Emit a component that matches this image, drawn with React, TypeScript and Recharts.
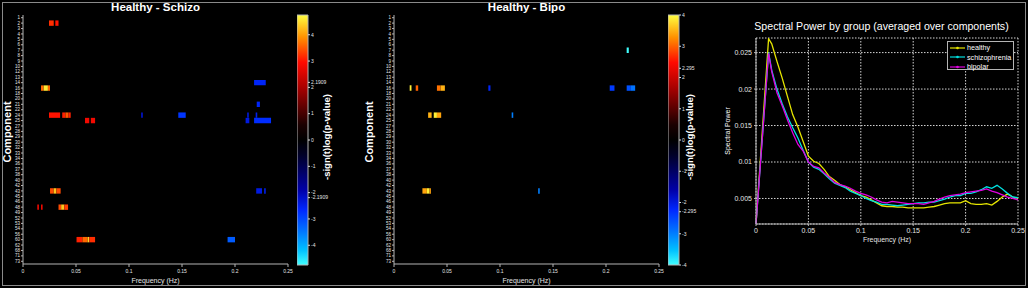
import React from "react";
import {
  ComposedChart,
  LineChart,
  Line,
  Scatter,
  XAxis,
  YAxis,
  ReferenceArea,
  CartesianGrid,
  Legend,
} from "recharts";

const FONT = '"Liberation Sans", Arial, sans-serif';

// component numbers on the heatmap rows, top to bottom
const components = [
  1, 2, 3, 4, 5, 6, 7, 8, 9, 10, 12, 13, 14, 16, 18, 20, 21, 22, 24, 25, 27, 28, 29, 30, 32, 33,
  34, 36, 37, 38, 40, 42, 43, 45, 46, 48, 49, 52, 53, 54, 56, 60, 62, 68, 71, 73,
];

const freqTicks = [0, 0.05, 0.1, 0.15, 0.2, 0.25];

// significant cells: [row, freq from, freq to, -sign(t)log(p)]
type Cell = [number, number, number, number];

const schizoCells: Cell[] = [
  [2, 0.0245, 0.029, 3.2],
  [2, 0.0305, 0.0335, 3.0],
  [13, 0.218, 0.229, -2.6],
  [14, 0.017, 0.0195, 3.6],
  [14, 0.0195, 0.0235, 4.6],
  [14, 0.0235, 0.0255, 3.6],
  [17, 0.2205, 0.2235, -2.6],
  [19, 0.0245, 0.035, 3.0],
  [19, 0.037, 0.04, 3.1],
  [19, 0.04, 0.043, 3.5],
  [19, 0.043, 0.045, 3.1],
  [19, 0.1115, 0.113, -2.3],
  [19, 0.1465, 0.1535, -2.8],
  [19, 0.2115, 0.213, -2.4],
  [19, 0.2195, 0.221, -2.5],
  [20, 0.0585, 0.0625, 2.8],
  [20, 0.064, 0.068, 2.8],
  [20, 0.21, 0.2135, -2.4],
  [20, 0.218, 0.234, -2.7],
  [33, 0.0255, 0.029, 3.4],
  [33, 0.029, 0.0315, 4.3],
  [33, 0.0315, 0.0355, 3.4],
  [33, 0.22, 0.2255, -2.4],
  [33, 0.2275, 0.229, -2.5],
  [36, 0.0135, 0.015, 2.8],
  [36, 0.017, 0.0185, 2.8],
  [36, 0.0335, 0.036, 3.4],
  [36, 0.036, 0.039, 4.3],
  [36, 0.039, 0.0425, 3.3],
  [42, 0.0505, 0.056, 3.1],
  [42, 0.056, 0.061, 3.6],
  [42, 0.061, 0.0625, 4.4],
  [42, 0.0625, 0.068, 3.2],
  [42, 0.193, 0.2, -3.2],
];

const bipoCells: Cell[] = [
  [7, 0.2195, 0.2215, -4.0],
  [14, 0.0148, 0.0165, 3.9],
  [14, 0.0205, 0.0228, 3.0],
  [14, 0.0405, 0.044, 3.1],
  [14, 0.044, 0.048, 3.5],
  [14, 0.089, 0.091, -2.2],
  [14, 0.2035, 0.208, -2.4],
  [14, 0.2195, 0.2235, -2.6],
  [14, 0.2235, 0.2275, -2.9],
  [19, 0.0322, 0.0355, 3.5],
  [19, 0.0375, 0.0405, 3.9],
  [19, 0.0405, 0.0445, 3.4],
  [19, 0.111, 0.1125, -3.0],
  [33, 0.0268, 0.031, 3.4],
  [33, 0.031, 0.0335, 3.9],
  [33, 0.0335, 0.0348, 3.4],
  [33, 0.136, 0.1375, -3.0],
];

const schizoBarTicks = [4, 3, 2.1909, 2, 1, 0, -1, -2, -2.1909, -3, -4];
const bipoBarTicks = [4, 3, 2.295, 2, 1, 0, -1, -2, -2.295, -3, -4];

// spectral power curves
const spectrumFreq = [
  0, 0.012, 0.015, 0.02, 0.025, 0.03, 0.035, 0.04, 0.045, 0.05, 0.055, 0.06, 0.065, 0.07, 0.075,
  0.08, 0.085, 0.09, 0.095, 0.1, 0.105, 0.11, 0.115, 0.12, 0.125, 0.13, 0.135, 0.14, 0.145, 0.15,
  0.155, 0.16, 0.165, 0.17, 0.175, 0.18, 0.185, 0.19, 0.195, 0.2, 0.205, 0.21, 0.215, 0.22, 0.225,
  0.23, 0.235, 0.24, 0.245, 0.25,
];
const healthyPower = [
  0.0015, 0.0269, 0.0262, 0.0238, 0.0215, 0.019, 0.0165, 0.0148, 0.0128, 0.0108, 0.0101, 0.0098,
  0.009, 0.008, 0.0075, 0.0069, 0.0066, 0.0062, 0.0058, 0.0054, 0.0052, 0.0048, 0.0044, 0.004,
  0.0039, 0.0039, 0.0038, 0.0038, 0.0037, 0.0037, 0.0037, 0.0037, 0.0038, 0.0039, 0.0041, 0.0043,
  0.0044, 0.0044, 0.0044, 0.0047, 0.0043, 0.0042, 0.0042, 0.0043, 0.0041, 0.0046, 0.0052, 0.0056,
  0.0052, 0.005,
];
const schizoPower = [
  0.0015, 0.025, 0.0226, 0.02, 0.018, 0.0162, 0.0147, 0.0133, 0.0116, 0.01, 0.0093, 0.009, 0.0084,
  0.0077, 0.0071, 0.0068, 0.0065, 0.006, 0.0057, 0.0054, 0.005, 0.0047, 0.0045, 0.0042, 0.0042,
  0.0041, 0.004, 0.0041, 0.0042, 0.0043, 0.0044, 0.0044, 0.0045, 0.0045, 0.0047, 0.0049, 0.0052,
  0.0054, 0.0054, 0.0057, 0.0057, 0.0059, 0.0062, 0.0066, 0.0064, 0.0068, 0.0063, 0.0057, 0.0052,
  0.0051,
];
const bipolarPower = [
  0.0015, 0.0249, 0.0224, 0.0195, 0.0177, 0.0158, 0.014, 0.0124, 0.0115, 0.01, 0.0094, 0.0092,
  0.0085, 0.0079, 0.0072, 0.0069, 0.0067, 0.0064, 0.006, 0.0057, 0.0055, 0.0052, 0.0048, 0.0045,
  0.0044, 0.0046, 0.0045, 0.0044, 0.0043, 0.0043, 0.0043, 0.0042, 0.0044, 0.0046, 0.0049, 0.0052,
  0.0054, 0.0055, 0.0056, 0.0058, 0.0059, 0.006, 0.0061, 0.0063, 0.006, 0.0058, 0.0055, 0.0052,
  0.005, 0.0048,
];
const powerTicks = [0.005, 0.01, 0.015, 0.02, 0.025];
const groupOrder = ["healthy", "schizophrenia", "bipolar"];

const spectrumData = spectrumFreq.map((f, i) => ({
  f,
  healthy: healthyPower[i],
  schizophrenia: schizoPower[i],
  bipolar: bipolarPower[i],
}));

// colormap: black -> red -> yellow for positive, black -> blue -> cyan for negative
const hotStops: [number, string][] = [
  [0, "#000000"],
  [0.12, "#1a0000"],
  [0.4, "#a00000"],
  [0.62, "#ff0a00"],
  [0.82, "#ff9000"],
  [1, "#ffff40"],
];
const coldStops: [number, string][] = [
  [0, "#000000"],
  [0.12, "#000028"],
  [0.4, "#0000a8"],
  [0.56, "#0028ff"],
  [0.72, "#0070ff"],
  [0.88, "#00c0ff"],
  [1, "#40ffff"],
];

const rgb = (h: string) => [1, 3, 5].map((i) => parseInt(h.slice(i, i + 2), 16));

function ramp(stops: [number, string][], t: number) {
  const v = Math.max(0, Math.min(1, t));
  for (let i = 1; i < stops.length; i++) {
    if (v <= stops[i][0]) {
      const [t0, c0] = stops[i - 1];
      const [t1, c1] = stops[i];
      const k = (v - t0) / (t1 - t0);
      const a = rgb(c0);
      const b = rgb(c1);
      return `rgb(${a.map((x, j) => Math.round(x + (b[j] - x) * k)).join(",")})`;
    }
  }
  return stops[stops.length - 1][1];
}

const cellColor = (v: number, limit: number) =>
  v >= 0 ? ramp(hotStops, v / limit) : ramp(coldStops, -v / limit);

const FRAME = "#b4b4b4";
const TXT = "#e4e4e4";
const noShape = () => <g />;

const RotLabel = ({ cx, cy, text, size, bold }: any) => (
  <div
    style={{
      position: "absolute",
      left: cx,
      top: cy,
      transform: "translate(-50%, -50%) rotate(-90deg)",
      whiteSpace: "nowrap",
      fontSize: size,
      fontWeight: bold ? "bold" : "normal",
      color: "#fff",
      fontFamily: FONT,
      lineHeight: 1,
    }}
  >
    {text}
  </div>
);

function Heatmap({ x, title, cells, limit, barTicks, id }: any) {
  const rows = components.map((_, i) => i + 1);
  const centers = cells.map(([row, f0, f1]: Cell) => ({ f: (f0 + f1) / 2, row }));
  const barPoints = barTicks.map((v: number) => ({ u: 0.5, v }));
  const gradStops = [
    ...hotStops.slice().reverse().map(([t, c]) => ({ o: (1 - t) / 2, c })),
    ...coldStops.map(([t, c]) => ({ o: 0.5 + t / 2, c })),
  ];
  return (
    <>
      <div
        style={{
          position: "absolute",
          left: x + 23,
          width: 265,
          top: 0,
          textAlign: "center",
          fontWeight: "bold",
          fontSize: 11.5,
          color: "#fff",
          fontFamily: FONT,
          lineHeight: "15px",
        }}
      >
        {title}
      </div>
      <RotLabel cx={x + (id === "g1" ? 7 : -2)} cy={132} text="Component" size={11} bold />
      <div style={{ position: "absolute", left: x, top: 0 }}>
        <ComposedChart width={300} height={288} margin={{ top: 15, right: 12, bottom: 0, left: 0 }}>
          <XAxis
            xAxisId="b"
            dataKey="f"
            type="number"
            domain={[0, 0.25]}
            allowDataOverflow
            ticks={freqTicks}
            interval={0}
            height={24}
            tickSize={3}
            stroke={FRAME}
            tick={{ fontSize: 5, fill: TXT, fontFamily: FONT }}
            label={{ value: "Frequency (Hz)", position: "insideBottom", offset: 5, fill: TXT, fontSize: 7, fontFamily: FONT }}
          />
          <XAxis
            xAxisId="t"
            dataKey="f"
            orientation="top"
            type="number"
            domain={[0, 0.25]}
            allowDataOverflow
            ticks={freqTicks}
            height={0}
            tickSize={3}
            tick={false}
            stroke={FRAME}
          />
          <YAxis
            yAxisId="l"
            dataKey="row"
            type="number"
            domain={[0.5, 46.5]}
            allowDataOverflow
            reversed
            ticks={rows}
            interval={0}
            width={23}
            tickSize={2}
            tickMargin={1}
            stroke={FRAME}
            tickFormatter={(v: number) => String(components[v - 1])}
            tick={{ fontSize: 4.5, fill: TXT, fontFamily: FONT }}
          />
          <YAxis
            yAxisId="r"
            dataKey="row"
            orientation="right"
            type="number"
            domain={[0.5, 46.5]}
            allowDataOverflow
            reversed
            ticks={rows}
            interval={0}
            width={0}
            tickSize={2}
            tick={false}
            stroke={FRAME}
          />
          <Scatter data={centers} xAxisId="b" yAxisId="l" dataKey="row" shape={noShape} isAnimationActive={false} />
          <Scatter data={centers} xAxisId="t" yAxisId="r" dataKey="row" shape={noShape} isAnimationActive={false} />
          {cells.map(([row, f0, f1, v]: Cell, i: number) => (
            <ReferenceArea
              key={i}
              xAxisId="b"
              yAxisId="l"
              x1={f0}
              x2={f1}
              y1={row - 0.5}
              y2={row + 0.5}
              fill={cellColor(v, limit)}
              fillOpacity={1}
              stroke="none"
              ifOverflow="hidden"
            />
          ))}
        </ComposedChart>
      </div>
      <div style={{ position: "absolute", left: x + 297, top: 0 }}>
        <ComposedChart width={33} height={288} margin={{ top: 15, right: 0, bottom: 23, left: 0 }}>
          <defs>
            <linearGradient id={id} x1="0" y1="0" x2="0" y2="1">
              {gradStops.map((s, i) => (
                <stop key={i} offset={s.o} stopColor={s.c} />
              ))}
            </linearGradient>
          </defs>
          <XAxis dataKey="u" type="number" domain={[0, 1]} allowDataOverflow hide />
          <YAxis
            dataKey="v"
            type="number"
            orientation="right"
            domain={[-limit, limit]}
            allowDataOverflow
            ticks={barTicks}
            interval={0}
            width={22}
            tickSize={2}
            tickMargin={1}
            axisLine={false}
            tickLine={{ stroke: "#ddd" }}
            tick={{ fontSize: 5, fill: TXT, fontFamily: FONT }}
          />
          <ReferenceArea
            x1={0}
            x2={1}
            y1={-limit}
            y2={limit}
            fill={`url(#${id})`}
            fillOpacity={1}
            stroke={FRAME}
            ifOverflow="visible"
          />
          <Scatter data={barPoints} dataKey="v" shape={noShape} isAnimationActive={false} />
        </ComposedChart>
      </div>
      <RotLabel cx={x + (id === "g1" ? 327 : 319)} cy={137} text="-sign(t)log(p-value)" size={9.5} bold />
    </>
  );
}

const renderLegend = (props: any) => {
  const items = (props.payload || [])
    .slice()
    .sort((a: any, b: any) => groupOrder.indexOf(a.value) - groupOrder.indexOf(b.value));
  return (
    <div
      style={{
        border: `1px solid ${FRAME}`,
        background: "#000",
        width: 67,
        height: 29,
        boxSizing: "border-box",
        paddingTop: 1,
        fontFamily: FONT,
      }}
    >
      {items.map((p: any) => (
        <div key={p.value} style={{ display: "flex", alignItems: "center", height: 9.5 }}>
          <svg width={19} height={8}>
            <line x1={2} y1={4} x2={17} y2={4} stroke={p.color} strokeWidth={1.2} />
            <circle cx={9.5} cy={4} r={1.3} fill={p.color} />
          </svg>
          <span style={{ fontSize: 7.2, color: "#fff", lineHeight: 1 }}>{p.value}</span>
        </div>
      ))}
    </div>
  );
};

function SpectrumChart() {
  return (
    <>
      <div
        style={{
          position: "absolute",
          left: 745,
          width: 273,
          top: 19,
          textAlign: "center",
          fontSize: 10.6,
          color: "#fff",
          fontFamily: FONT,
          lineHeight: "14px",
          whiteSpace: "nowrap",
        }}
      >
        Spectral Power by group (averaged over components)
      </div>
      <RotLabel cx={727} cy={131} text="Spectral Power" size={7} />
      <div style={{ position: "absolute", left: 720, top: 0 }}>
        <LineChart width={308} height={288} data={spectrumData} margin={{ top: 38, right: 10, bottom: 44, left: 0 }}>
          <CartesianGrid stroke="#d4d4d4" strokeDasharray="1.5 1.5" />
          <XAxis
            dataKey="f"
            type="number"
            domain={[0, 0.25]}
            ticks={freqTicks}
            interval={0}
            height={20}
            tickSize={2}
            stroke={FRAME}
            tick={{ fontSize: 7, fill: TXT, fontFamily: FONT }}
            label={{ value: "Frequency (Hz)", position: "insideBottom", offset: 2, fill: TXT, fontSize: 7, fontFamily: FONT }}
          />
          <XAxis xAxisId="top" dataKey="f" orientation="top" type="number" domain={[0, 0.25]} height={0} tick={false} tickLine={false} stroke={FRAME} />
          <YAxis
            type="number"
            domain={[0.0015, 0.027]}
            allowDataOverflow
            ticks={powerTicks}
            interval={0}
            width={36}
            tickSize={2}
            stroke={FRAME}
            tick={{ fontSize: 7, fill: TXT, fontFamily: FONT }}
          />
          <YAxis yAxisId="right" orientation="right" type="number" domain={[0.0015, 0.027]} width={0} tick={false} tickLine={false} stroke={FRAME} />
          <Line dataKey="healthy" name="healthy" stroke="#e6e600" strokeWidth={1.3} dot={false} isAnimationActive={false} />
          <Line dataKey="schizophrenia" name="schizophrenia" stroke="#00e0e0" strokeWidth={1.3} dot={false} isAnimationActive={false} />
          <Line dataKey="bipolar" name="bipolar" stroke="#e000e0" strokeWidth={1.3} dot={false} isAnimationActive={false} />
          <Legend
            layout="vertical"
            align="center"
            verticalAlign="middle"
            content={renderLegend}
            wrapperStyle={{ left: 227, top: 41, width: 69, height: 31 }}
          />
        </LineChart>
      </div>
    </>
  );
}

export default function App() {
  return (
    <div
      style={{
        position: "fixed",
        left: 0,
        top: 0,
        width: 1028,
        height: 288,
        background: "#000",
        overflow: "hidden",
      }}
    >
      <div
        style={{
          position: "absolute",
          left: 2,
          top: 2,
          width: 1022,
          height: 282,
          border: "1px solid #8a8a8a",
        }}
      />
      <Heatmap x={0} title="Healthy - Schizo" cells={schizoCells} limit={4.75} barTicks={schizoBarTicks} id="g1" />
      <Heatmap x={371} title="Healthy - Bipo" cells={bipoCells} limit={4} barTicks={bipoBarTicks} id="g2" />
      <SpectrumChart />
    </div>
  );
}
